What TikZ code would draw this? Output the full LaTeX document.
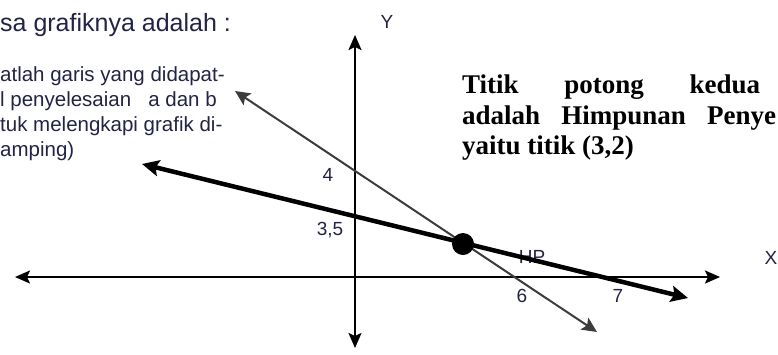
\documentclass[tikz,border=0pt]{standalone}
\usepackage{fontspec}
\setmainfont{Liberation Serif}
\newfontfamily\arialfont{Liberation Sans}
\usetikzlibrary{arrows.meta}
\definecolor{labelcol}{RGB}{35,35,70}
\definecolor{thincol}{RGB}{60,60,60}
\tikzset{
  lbl/.style={font=\arialfont\fontsize{19}{19}\selectfont, text=labelcol, inner sep=0pt},
  note/.style={font=\arialfont\fontsize{20.5}{25}\selectfont, text=labelcol, inner sep=0pt, anchor=west, align=left},
  hpnote/.style={font=\bfseries\fontsize{27}{30}\selectfont, inner sep=0pt, anchor=west},
  axis/.style={line width=2pt, {Stealth[length=15pt,width=13pt,inset=3pt]}-{Stealth[length=15pt,width=13pt,inset=3pt]}},
  thinline/.style={line width=2pt, thincol, {Stealth[length=15pt,width=14pt,inset=3pt]}-{Stealth[length=15pt,width=14pt,inset=3pt]}},
  thickline/.style={line width=4.5pt, {Stealth[length=17pt,width=16pt,inset=3pt]}-{Stealth[length=17pt,width=16pt,inset=3pt]}},
}
\begin{document}
\begin{tikzpicture}[x=1pt,y=-1pt]
\useasboundingbox (0,0) rectangle (778,354);
\clip (0,0) rectangle (778,354);
% texts
\node[note, font=\arialfont\fontsize{25}{25}\selectfont] (judul) at (0,25) {sa grafiknya adalah :};
\node[note] (ket) at (0,114) {atlah garis yang didapat-\\l penyelesaian\ \ \ a dan b\\tuk melengkapi grafik di-\\amping)};
\node[hpnote] (baris1) at (462,87) {\makebox[298pt][s]{Titik potong kedua}};
\node[hpnote] (baris2) at (462,118) {\makebox[314pt][s]{adalah Himpunan Penye}};
\node[hpnote] (baris3) at (462,148) {yaitu titik (3,2)};
% labels
\node[lbl] (ylab) at (387,22) {Y};
\node[lbl] (xlab) at (771,258) {X};
\node[lbl] (empat) at (328,175) {4};
\node[lbl] (tigalima) at (330,230) {3,5};
\node[lbl] (hp) at (532,257) {HP};
\node[lbl] (enam) at (522,296) {6};
\node[lbl] (tujuh) at (618,296) {7};
% axes
\coordinate (xl) at (15,277);
\coordinate (xr) at (720,277);
\coordinate (yt) at (355,35);
\coordinate (yb) at (355,348);
\draw[axis] (xl) -- (xr);
\draw[axis] (yt) -- (yb);
% the two lines
\coordinate (a1) at (235,91);
\coordinate (a2) at (597,332);
\coordinate (b1) at (142,164);
\coordinate (b2) at (688,298);
\draw[thinline] (a1) -- (a2);
\draw[thickline] (b1) -- (b2);
\coordinate (ip) at (463,244);
\fill (ip) circle (11);
\end{tikzpicture}
\end{document}
